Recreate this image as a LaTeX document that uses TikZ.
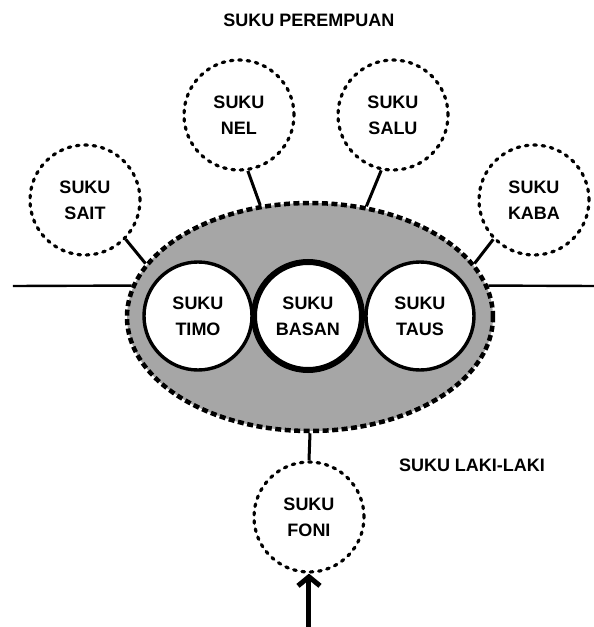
\documentclass[tikz,border=0pt]{standalone}
\usepackage{fontspec}
\setmainfont{Liberation Sans}
\usepackage{tikz}
\usetikzlibrary{shapes.geometric,arrows.meta}

\tikzset{
  clan/.style={ellipse, draw, line width=4.5pt, dash pattern=on 6pt off 3.5pt,
    fill=black!35, minimum width=366pt, minimum height=228pt, inner sep=0pt},
  core/.style={circle, draw, fill=white, line width=3.4pt, minimum size=108pt,
    inner sep=0pt, align=center},
  outer/.style={circle, draw, line width=3.2pt, line cap=round,
    dash pattern=on 2.6pt off 5.8pt, minimum size=110pt, inner sep=0pt, align=center},
  link/.style={line width=3pt},
}

\begin{document}
\begin{tikzpicture}[x=1pt,y=1pt,font=\fontsize{18}{26}\selectfont\bfseries]
  \useasboundingbox (-310,-310) rectangle (284,317);

  \draw (-1,297) node (title) {SUKU PEREMPUAN};
  \draw (162,-148) node (male) {SUKU LAKI-LAKI};

  \draw (0,0) node[clan] (clan) {};
  \draw (-112,1) node[core] (timo) {SUKU\\TIMO};
  \draw (110,1) node[core] (taus) {SUKU\\TAUS};
  \draw (-2,1) node[core, line width=6pt] (basan) {SUKU\\BASAN};

  \draw (-225,117) node[outer] (sait) {SUKU\\SAIT};
  \draw (-71,202) node[outer] (nel) {SUKU\\NEL};
  \draw (83,202) node[outer] (salu) {SUKU\\SALU};
  \draw (224,117) node[outer] (kaba) {SUKU\\KABA};
  \draw (-1,-200) node[outer] (foni) {SUKU\\FONI};

  \coordinate (west) at (-297,31);
  \coordinate (east) at (284,31);
  \coordinate (entry) at (-1,-310);

  \path[link, line width=2.4pt] (west) edge (clan.170);
  \path[link, line width=2.4pt] (clan.10) edge (east);

  \path[link] (sait.-44) edge (clan.162);
  \path[link] (nel.-81) edge (clan.114);
  \path[link] (salu.-102) edge (clan.63);
  \path[link] (kaba.-136) edge (clan.18);
  \path[link] (clan.south) edge (foni.north);

  \draw[line width=5pt, -{Straight Barb[length=9pt,width=22pt]}] (entry) -- (foni.south);
\end{tikzpicture}
\end{document}
